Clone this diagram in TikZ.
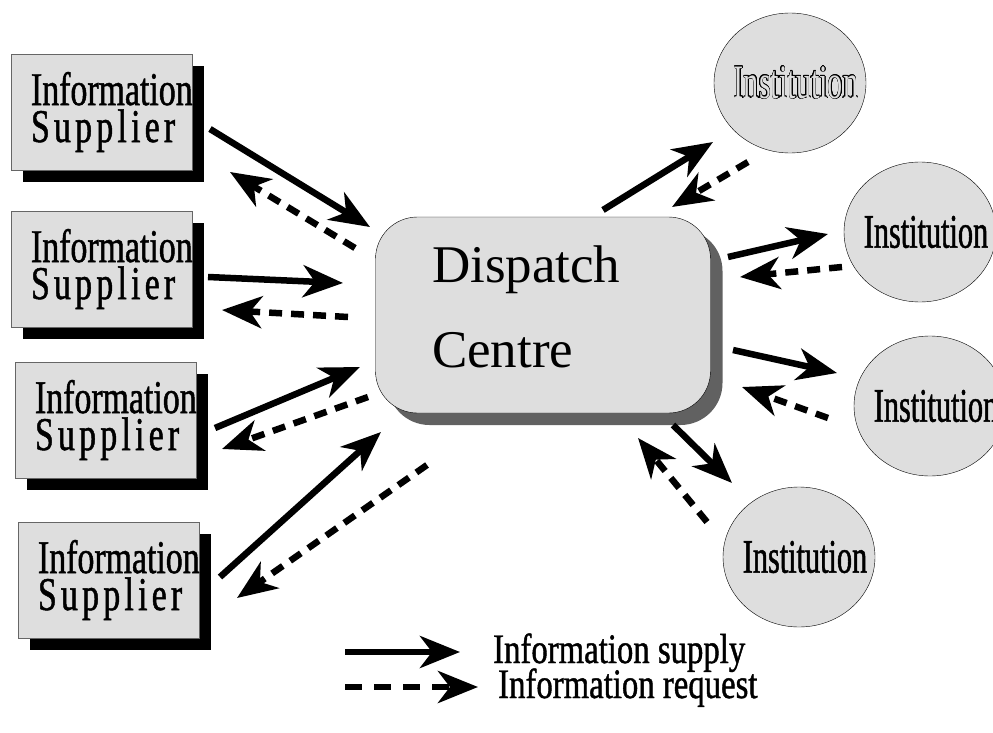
\documentclass[tikz,border=0pt]{standalone}
\usepackage{fontspec}
\setmainfont{Liberation Serif}
\newfontfamily\supfont[FakeStretch=0.72,FakeBold=1]{Liberation Serif}
\newfontfamily\instfont[FakeStretch=0.63,FakeBold=1]{Liberation Serif}
\newfontfamily\instoutfont[FakeStretch=0.63]{Liberation Serif}
\newfontfamily\legfont[FakeStretch=0.78,FakeBold=1]{Liberation Serif}
\usepackage{contour}
\contourlength{0.6pt}
\usetikzlibrary{arrows.meta,shapes.geometric,shadows}

\newcommand\suppliertext{Information\\{\addfontfeature{LetterSpace=9}Supplier}}

\tikzset{
  supplier/.style={draw=black!60,fill=black!13,minimum width=181pt,minimum height=116pt,
    inner sep=0pt,text width=142pt,align=left,font=\supfont\fontsize{47}{37}\selectfont,
    drop shadow={shadow xshift=11pt,shadow yshift=-12pt,fill=black,opacity=1}},
  dispatch/.style={draw,fill=black!13,rounded corners=42pt,minimum width=335pt,minimum height=196pt,
    inner sep=0pt,text width=222pt,align=left,font=\fontsize{53}{85}\selectfont,
    drop shadow={shadow xshift=12pt,shadow yshift=-12pt,fill=black!62,opacity=1}},
  institution/.style={ellipse,draw,fill=black!13,minimum width=152pt,minimum height=140pt,inner sep=0pt},
  insttext/.style={font=\instfont\fontsize{48}{48}\selectfont,inner sep=0pt,xshift=6pt},
  legtext/.style={font=\legfont\fontsize{42}{42}\selectfont,inner sep=0pt,anchor=base west},
  supplyarrow/.style={line width=6.5pt,-{Stealth[length=40pt,width=32pt,inset=12pt]}},
  requestarrow/.style={supplyarrow,dash pattern=on 13pt off 9pt}
}

\begin{document}
\begin{tikzpicture}[x=1pt,y=-1pt]
  \useasboundingbox (0,0) rectangle (993,733);

  % suppliers
  \node[supplier] (sup1) at (102,112) {\suppliertext};
  \node[supplier] (sup2) at (102,269) {\suppliertext};
  \node[supplier] (sup3) at (106,420) {\suppliertext};
  \node[supplier] (sup4) at (109,580) {\suppliertext};

  \node[dispatch] (disp) at (543,315) {Dispatch\\Centre\rule[-17pt]{0pt}{17pt}};

  % institutions
  \node[institution,label={[insttext,font=\instoutfont\fontsize{48}{48}\selectfont]center:\contour{black}{\textcolor{black!13}{Institution}}}] (inst1) at (790,83) {};
  \node[institution,label={[insttext]center:Institution}] (inst2) at (920,232) {};
  \node[institution,label={[insttext]center:Institution}] (inst3) at (930,406) {};
  \node[institution,label={[insttext]center:Institution}] (inst4) at (799,557) {};

  % arrow ends
  \foreach \nm/\x/\y in {s1s/210/129, s1e/370/227, r1s/355/248, r1e/230/172,
                         s2s/208/277, s2e/343/283, r2s/348/317, r2e/222/310,
                         s3s/215/428, s3e/360/367, r3s/368/397, r3e/222/449,
                         s4s/220/577, s4e/381/432, r4s/427/465, r4e/237/598,
                         t1s/603/210, t1e/713/142, q1s/748/162, q1e/672/207,
                         t2s/728/257, t2e/828/234, q2s/842/267, q2e/740/277,
                         t3s/733/350, t3e/837/373, q3s/828/418, q3e/742/387,
                         t4s/673/425, t4e/732/483, q4s/707/522, q4e/638/438}
    \coordinate (\nm) at (\x,\y);

  \foreach \i in {1,...,4} {
    \draw[supplyarrow] (s\i s) -- (s\i e);
    \draw[requestarrow] (r\i s) -- (r\i e);
    \draw[supplyarrow] (t\i s) -- (t\i e);
    \draw[requestarrow] (q\i s) -- (q\i e);
  }

  % legend
  \node[legtext] (legsupply) at (493,663) {Information supply};
  \node[legtext] (legrequest) at (498,698) {Information request};
  \coordinate (legs) at (345,652);
  \coordinate (legr) at (345,687);
  \draw[supplyarrow] (legs) -- ([xshift=-33pt,yshift=11pt]legsupply.base west);
  \draw[requestarrow,dash pattern=on 17pt off 12pt] (legr) -- ([xshift=-20pt,yshift=11pt]legrequest.base west);
\end{tikzpicture}
\end{document}
